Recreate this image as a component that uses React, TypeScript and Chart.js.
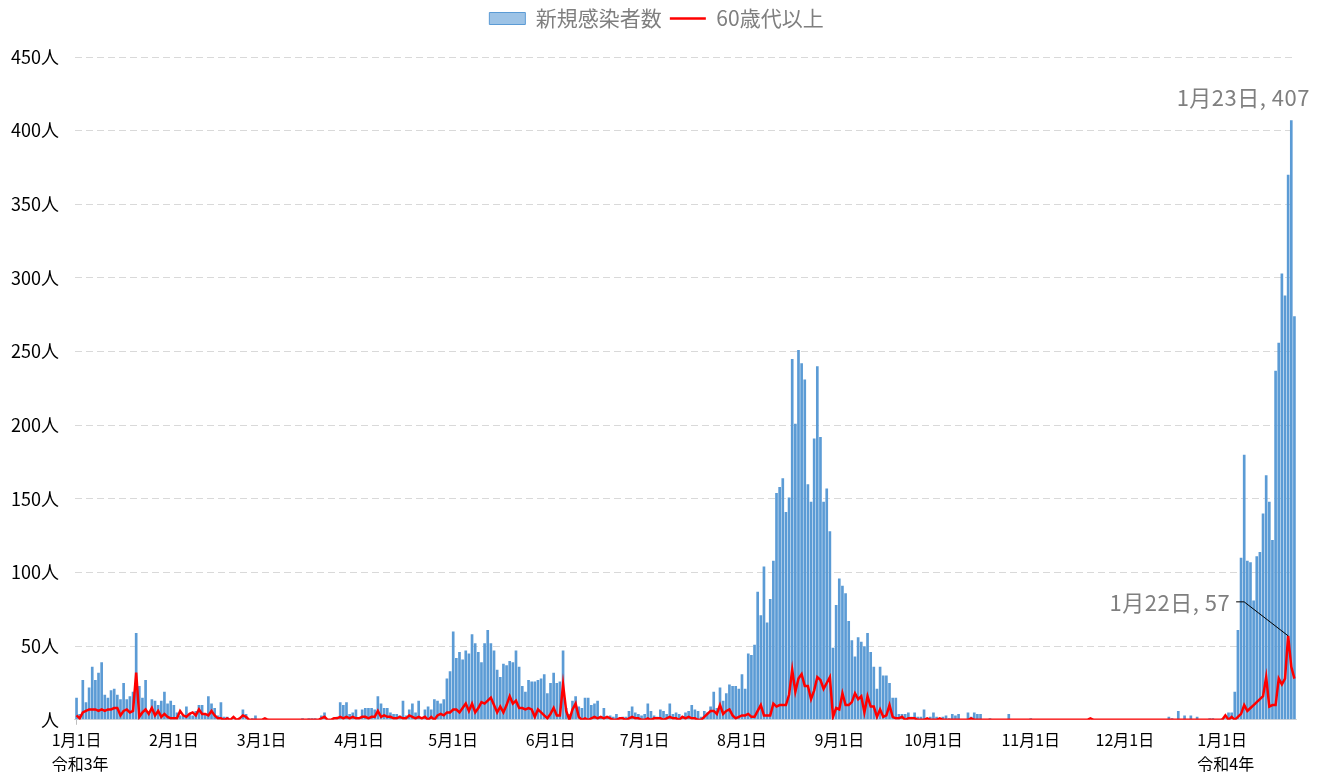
import React, { useEffect, useRef } from 'react';
import { Chart, registerables } from 'chart.js';

Chart.register(...registerables);

const FONT = "'Noto Sans CJK JP', 'Noto Sans', sans-serif";

// [year, month] for each monthly block
const months: [number, number][] = [
  [2021, 1], [2021, 2], [2021, 3], [2021, 4], [2021, 5], [2021, 6],
  [2021, 7], [2021, 8], [2021, 9], [2021, 10], [2021, 11], [2021, 12], [2022, 1],
];

// 新規感染者数 (daily new cases)
const cases2021_01 = [15, 4, 27, 12, 22, 36, 27, 32, 39, 17, 15, 20, 21, 17, 14, 25, 14, 16, 19, 59, 23, 15, 27, 4, 14, 13, 10, 13, 19, 11, 13];
const cases2021_02 = [10, 5, 3, 3, 9, 4, 3, 6, 10, 10, 4, 16, 11, 8, 3, 12, 2, 2, 0, 1, 0, 1, 7, 4, 0, 1, 3, 0];
const cases2021_03 = [0, 1, 0, 0, 0, 0, 0, 0, 0, 0, 0, 0, 0, 1, 0, 1, 1, 1, 0, 3, 5, 0, 0, 1, 2, 12, 10, 12, 4, 5, 7];
const cases2021_04 = [1, 7, 8, 8, 8, 7, 16, 11, 8, 8, 5, 4, 4, 3, 13, 3, 7, 11, 5, 13, 1, 7, 9, 7, 14, 13, 11, 14, 28, 33];
const cases2021_05 = [60, 42, 46, 41, 47, 45, 58, 52, 46, 39, 52, 61, 52, 47, 34, 29, 38, 37, 40, 39, 47, 36, 23, 19, 27, 26, 26, 27, 28, 31, 18];
const cases2021_06 = [25, 32, 25, 26, 47, 8, 4, 13, 16, 9, 8, 15, 15, 10, 11, 13, 2, 8, 2, 3, 2, 4, 1, 2, 2, 6, 9, 5, 4, 3];
const cases2021_07 = [4, 11, 6, 3, 2, 7, 6, 4, 11, 4, 5, 4, 2, 5, 6, 10, 7, 6, 2, 6, 5, 9, 19, 8, 22, 13, 18, 24, 23, 23, 21];
const cases2021_08 = [31, 21, 45, 44, 51, 87, 71, 104, 66, 82, 108, 154, 158, 164, 141, 151, 245, 201, 251, 242, 231, 160, 148, 191, 240, 192, 148, 157, 128, 49, 78];
const cases2021_09 = [96, 91, 86, 67, 54, 43, 56, 53, 50, 59, 46, 36, 21, 36, 30, 30, 25, 15, 15, 4, 4, 4, 5, 2, 5, 2, 2, 7, 1, 2];
const cases2021_10 = [5, 2, 0, 2, 3, 1, 4, 3, 4, 0, 0, 5, 2, 5, 4, 4, 0, 0, 1, 0, 0, 0, 0, 0, 4, 0, 0, 0, 0, 0, 0];
const cases2021_11 = [1, 0, 0, 0, 0, 0, 0, 0, 0, 0, 0, 0, 0, 0, 0, 0, 0, 0, 0, 0, 0, 0, 0, 0, 0, 0, 0, 0, 0, 0];
const cases2021_12 = [0, 0, 0, 0, 0, 0, 0, 0, 0, 0, 0, 0, 0, 0, 2, 1, 0, 6, 0, 3, 0, 3, 0, 2, 0, 0, 0, 1, 1, 0, 0];
const cases2022_01 = [1, 1, 5, 5, 19, 61, 110, 180, 108, 107, 81, 111, 114, 140, 166, 148, 122, 237, 256, 303, 288, 370, 407, 274];

// 60歳代以上 (aged 60+)
const senior2021_01 = [3, 1, 5, 6, 7, 7, 7, 6, 7, 6, 7, 7, 8, 8, 3, 6, 7, 5, 6, 32, 2, 5, 7, 4, 8, 3, 6, 2, 4, 2, 1];
const senior2021_02 = [1, 1, 6, 3, 2, 4, 5, 3, 7, 4, 4, 3, 6, 3, 1, 1, 0, 1, 0, 2, 0, 1, 3, 2, 0, 0, 0, 0];
const senior2021_03 = [0, 1, 0, 0, 0, 0, 0, 0, 0, 0, 0, 0, 0, 0, 0, 0, 0, 0, 0, 1, 2, 0, 0, 1, 1, 2, 1, 2, 1, 2, 1];
const senior2021_04 = [1, 2, 2, 1, 2, 2, 6, 2, 3, 2, 2, 1, 1, 2, 1, 1, 3, 2, 1, 2, 1, 2, 0, 2, 0, 3, 4, 3, 5, 5];
const senior2021_05 = [7, 7, 5, 8, 11, 6, 11, 5, 8, 12, 11, 13, 15, 10, 5, 9, 5, 10, 16, 11, 13, 8, 8, 7, 8, 7, 2, 7, 5, 3, 1];
const senior2021_06 = [4, 8, 3, 3, 24, 6, 0, 7, 11, 2, 0, 1, 0, 1, 2, 1, 2, 1, 2, 1, 0, 0, 1, 1, 0, 1, 2, 1, 1, 0];
const senior2021_07 = [0, 1, 0, 1, 1, 1, 0, 1, 2, 1, 1, 0, 2, 1, 2, 1, 1, 0, 0, 2, 4, 6, 6, 4, 10, 4, 6, 7, 3, 1, 2];
const senior2021_08 = [3, 3, 4, 2, 2, 6, 10, 3, 3, 3, 11, 9, 10, 10, 10, 17, 34, 19, 28, 31, 23, 23, 14, 20, 29, 27, 21, 25, 29, 2, 8];
const senior2021_09 = [7, 18, 10, 10, 12, 18, 14, 16, 5, 16, 9, 9, 2, 7, 2, 3, 10, 2, 1, 1, 2, 0, 1, 1, 1, 0, 0, 0, 1, 0];
const senior2021_10 = [0, 0, 1, 0, 0, 0, 0, 0, 0, 0, 0, 0, 1, 0, 0, 0, 0, 0, 0, 0, 0, 0, 0, 0, 0, 0, 0, 0, 0, 0, 0];
const senior2021_11 = [0, 0, 0, 0, 0, 0, 0, 0, 0, 0, 0, 0, 0, 0, 0, 0, 0, 0, 0, 1, 0, 0, 0, 0, 0, 0, 0, 0, 0, 0];
const senior2021_12 = [0, 0, 0, 0, 0, 0, 0, 0, 0, 0, 0, 0, 0, 0, 0, 0, 0, 0, 0, 0, 0, 0, 0, 0, 0, 0, 0, 0, 0, 0, 0];
const senior2022_01 = [0, 3, 0, 2, 0, 2, 4, 10, 6, 8, 10, 12, 14, 16, 29, 9, 10, 10, 28, 24, 28, 57, 36, 28];

// era captions under the first tick of each year
const eraCaptions: Record<number, string> = { 2021: '令和3年', 2022: '令和4年' };
const yTickValues = [0, 50, 100, 150, 200, 250, 300, 350, 400, 450];

const casesByMonth = [cases2021_01, cases2021_02, cases2021_03, cases2021_04, cases2021_05, cases2021_06,
  cases2021_07, cases2021_08, cases2021_09, cases2021_10, cases2021_11, cases2021_12, cases2022_01];
const seniorByMonth = [senior2021_01, senior2021_02, senior2021_03, senior2021_04, senior2021_05, senior2021_06,
  senior2021_07, senior2021_08, senior2021_09, senior2021_10, senior2021_11, senior2021_12, senior2022_01];

const labels: string[] = [];
const dayOfMonth: number[] = [];
const yearOf: number[] = [];
months.forEach(([yr, mo], k) => {
  casesByMonth[k].forEach((_, i) => {
    labels.push(`${mo}月${i + 1}日`);
    dayOfMonth.push(i + 1);
    yearOf.push(yr);
  });
});
const newCases = casesByMonth.flat();
const seniors = seniorByMonth.flat();

const legendMargin = {
  id: 'legendMargin',
  beforeInit(chart: any) {
    const orig = chart.legend.fit;
    chart.legend.fit = function fit() {
      orig.bind(chart.legend)();
      this.height += 18;
    };
  },
  afterLayout(chart: any) {
    if (chart.legend) {
      chart.legend.left += 11;
      chart.legend.right += 11;
    }
  },
};

const annotations = {
  id: 'annotations',
  afterDatasetsDraw(chart: any) {
    const { ctx, scales, chartArea } = chart;
    const x = scales.x;
    const y = scales.y;
    ctx.save();
    // peak of new cases
    let pi = 0;
    newCases.forEach((v, i) => { if (v > newCases[pi]) pi = i; });
    const px = x.getPixelForValue(pi);
    const py = y.getPixelForValue(newCases[pi]);
    ctx.font = `22px ${FONT}`;
    try { (ctx as any).letterSpacing = '0.5px'; } catch (e) { /* ignore */ }
    ctx.fillStyle = '#7f7f7f';
    ctx.textBaseline = 'middle';
    ctx.textAlign = 'center';
    ctx.fillText(`${labels[pi]}, ${newCases[pi]}`, px - 48, py - 23);

    // peak of 60+
    let si = 0;
    seniors.forEach((v, i) => { if (v > seniors[si]) si = i; });
    const sx = x.getPixelForValue(si);
    const sy = y.getPixelForValue(seniors[si]);
    ctx.textAlign = 'right';
    ctx.fillText(`${labels[si]}, ${seniors[si]}`, sx - 58, sy - 33);
    try { (ctx as any).letterSpacing = '0px'; } catch (e) { /* ignore */ }
    ctx.strokeStyle = '#000000';
    ctx.lineWidth = 1;
    ctx.beginPath();
    ctx.moveTo(sx - 52, sy - 34);
    ctx.lineTo(sx - 44, sy - 34);
    ctx.lineTo(sx, sy);
    ctx.stroke();

    // era captions
    ctx.font = `16px ${FONT}`;
    ctx.fillStyle = '#000000';
    ctx.textAlign = 'left';
    labels.forEach((lab, i) => {
      if (dayOfMonth[i] === 1 && lab.startsWith('1月')) {
        const cx = x.getPixelForValue(i);
        const w = ctx.measureText(lab).width;
        ctx.fillText(eraCaptions[yearOf[i]], cx - w / 2, chartArea.bottom + 44);
      }
    });
    ctx.restore();
  },
};

export default function App() {
  const ref = useRef<HTMLCanvasElement | null>(null);
  useEffect(() => {
    if (!ref.current) return;
    const chart = new Chart(ref.current, {
      type: 'bar',
      data: {
        labels,
        datasets: [
          {
            type: 'bar',
            label: '新規感染者数',
            data: newCases,
            backgroundColor: '#5b9bd5',
            borderWidth: 0,
            barPercentage: 0.85,
            categoryPercentage: 1,
            order: 1,
          },
          {
            type: 'line',
            label: '60歳代以上',
            data: seniors,
            borderColor: '#ff0000',
            backgroundColor: '#ff0000',
            borderWidth: 2.5,
            pointRadius: 0,
            tension: 0,
            order: 0,
          },
        ],
      } as any,
      options: {
        animation: false,
        responsive: true,
        maintainAspectRatio: false,
        layout: { padding: { left: -5, right: 29, top: 0, bottom: 24 } },
        plugins: {
          tooltip: { enabled: false },
          legend: {
            position: 'top',
            labels: {
              usePointStyle: true,
              pointStyleWidth: 36,
              boxWidth: 36,
              boxHeight: 12,
              padding: 8,
              color: '#7f7f7f',
              font: { family: FONT, size: 21 },
              generateLabels: () => [
                { text: '新規感染者数', fillStyle: '#9dc3e6', strokeStyle: '#5b9bd5', lineWidth: 1, pointStyle: 'rect', datasetIndex: 0, hidden: false, fontColor: '#7f7f7f' },
                { text: '60歳代以上', fillStyle: '#ff0000', strokeStyle: '#ff0000', lineWidth: 2.5, pointStyle: 'line', datasetIndex: 1, hidden: false, fontColor: '#7f7f7f' },
              ],
            },
          },
        },
        scales: {
          x: {
            offset: true,
            grid: {
              display: true,
              offset: false,
              drawOnChartArea: false,
              drawTicks: true,
              tickLength: 5,
              color: (c: any) => (dayOfMonth[c.index] === 1 ? '#bfbfbf' : 'rgba(0,0,0,0)'),
            },
            border: { display: true, color: '#d9d9d9', width: 1 },
            ticks: {
              autoSkip: false,
              maxRotation: 0,
              minRotation: 0,
              padding: 6,
              color: '#000000',
              font: { family: FONT, size: 16 },
              callback: (_v: any, i: number) => (dayOfMonth[i] === 1 ? labels[i] : null),
            },
          },
          y: {
            min: yTickValues[0],
            max: yTickValues[yTickValues.length - 1],
            afterBuildTicks: (axis: any) => { axis.ticks = yTickValues.map((v) => ({ value: v })); },
            grid: { color: '#d9d9d9', lineWidth: 1, drawTicks: false },
            border: { display: false, dash: [7, 4] },
            ticks: {
              padding: 16,
              color: '#000000',
              font: { family: FONT, size: 18 },
              callback: (v: any) => (v === 0 ? '人' : `${v}人`),
            },
          },
        },
      } as any,
      plugins: [legendMargin, annotations],
    });
    return () => chart.destroy();
  }, []);
  return (
    <div style={{ position: 'fixed', left: 0, top: 0, width: 1325, height: 780, background: '#ffffff' }}>
      <canvas ref={ref} />
    </div>
  );
}
